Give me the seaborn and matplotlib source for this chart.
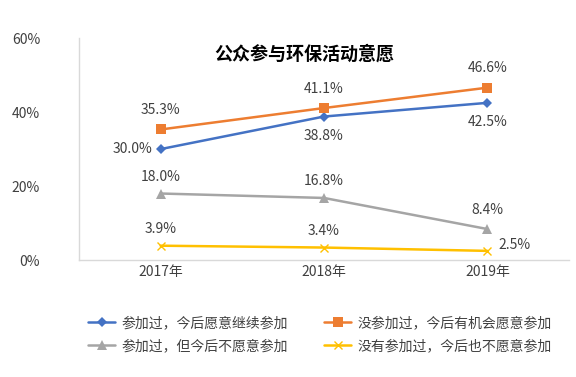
import numpy as np
import pandas as pd
import matplotlib
matplotlib.use("Agg")
import matplotlib.pyplot as plt
import seaborn as sns

years = ["2017年", "2018年", "2019年"]
series_names = ["参加过，今后愿意继续参加", "没参加过，今后有机会愿意参加",
                "参加过，但今后不愿意参加", "没有参加过，今后也不愿意参加"]
s1 = [30.0, 38.8, 42.5]
s2 = [35.3, 41.1, 46.6]
s3 = [18.0, 16.8, 8.4]
s4 = [3.9, 3.4, 2.5]
all_vals = [s1, s2, s3, s4]

colors = ["#4472C4", "#ED7D31", "#A5A5A5", "#FFC000"]
markers = ["D", "s", "^", "x"]
msizes = [5, 7, 7, 6]

sns.set_style("white")
plt.rcParams['font.family'] = ['Noto Sans CJK SC', 'DejaVu Sans']

rows = []
for name, vals in zip(series_names, all_vals):
    for i, v in enumerate(vals):
        rows.append({"x": i, "val": v, "series": name})
df = pd.DataFrame(rows)

fig = plt.figure(figsize=(5.76, 3.77), dpi=100)
ax = fig.add_axes([0.137, 0.31, 0.851, 0.589])

for name, c, m, ms in zip(series_names, colors, markers, msizes):
    sub = df[df["series"] == name]
    sns.lineplot(data=sub, x="x", y="val", color=c, marker=m, markersize=ms,
                 markeredgecolor=c, markeredgewidth=1.0 if m == "x" else 0,
                 linewidth=1.8, label=name, ax=ax, legend=False)

# data labels: (dx points, dy points, ha)
offsets = [
    [(-6, 0, "right"), (0, -14, "center"), (0, -14, "center")],
    [(0, 14, "center"), (0, 14, "center"), (0, 14, "center")],
    [(0, 12, "center"), (0, 12, "center"), (0, 14, "center")],
    [(0, 12, "center"), (0, 12, "center"), (8, 4, "left")],
]
for vals, offs in zip(all_vals, offsets):
    for i, (v, (dx, dy, ha)) in enumerate(zip(vals, offs)):
        ax.annotate(f"{v:.1f}%", (i, v), xytext=(dx, dy), textcoords="offset points",
                    ha=ha, va="center", fontsize=10, color="#404040")

ax.set_xlim(-0.5, 2.5)
ax.set_ylim(0, 60)
ax.set_xticks(range(len(years)))
ax.set_xticklabels(years)
ax.set_yticks([0, 20, 40, 60])
ax.set_yticklabels([f"{t}%" for t in [0, 20, 40, 60]])
ax.tick_params(axis="both", labelsize=10, colors="#404040", length=0)
ax.tick_params(axis="y", pad=28)
ax.set_xlabel("")
ax.set_ylabel("")
for sp in ["top", "right"]:
    ax.spines[sp].set_visible(False)
for sp in ["left", "bottom"]:
    ax.spines[sp].set_color("#D9D9D9")
    ax.spines[sp].set_linewidth(1)

ax.text(0.46, 0.93, "公众参与环保活动意愿", transform=ax.transAxes, ha="center",
        va="center", fontsize=13, fontweight="bold", color="black")

handles, labels = ax.get_legend_handles_labels()
order = [0, 2, 1, 3]
fig.legend([handles[k] for k in order], [labels[k] for k in order],
           loc="center", bbox_to_anchor=(0.556, 0.113), ncol=2,
           frameon=False, fontsize=10, handlelength=1.9, columnspacing=2.6,
           labelspacing=0.65, handletextpad=0.5, labelcolor="#404040")

fig.savefig("out.png", dpi=100)
